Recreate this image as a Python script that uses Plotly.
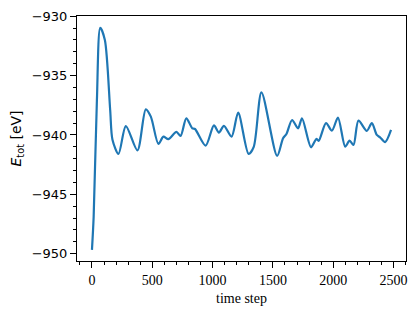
import plotly.graph_objects as go

# time step and total energy
time_step = [0, 14, 41, 69, 107, 151, 170, 220, 281, 377, 446, 488, 551, 592, 633, 700, 735,
             782, 832, 854, 942, 1011, 1052, 1094, 1157, 1212, 1298, 1341, 1405, 1535, 1584,
             1612, 1659, 1708, 1741, 1816, 1860, 1879, 1940, 1989, 2039, 2099, 2135, 2168,
             2209, 2278, 2320, 2361, 2388, 2430, 2479]
e_tot = [-949.68, -946.9, -937.06, -930.97, -932.0, -937.9, -940.4, -941.6, -939.25, -941.3,
         -937.84, -938.46, -940.76, -940.14, -940.36, -939.75, -940.08, -938.6, -939.44,
         -939.5, -940.9, -939.2, -939.8, -939.24, -940.14, -938.12, -941.6, -941.0, -936.41,
         -941.77, -940.28, -939.92, -938.74, -939.44, -938.6, -941.04, -940.34, -940.5,
         -939.0, -939.64, -938.54, -940.98, -940.48, -940.84, -938.8, -939.66, -939.0,
         -940.0, -940.2, -940.6, -939.58]

x_ticks = [0, 500, 1000, 1500, 2000, 2500]
y_ticks = [-950, -945, -940, -935, -930]

fig = go.Figure(go.Scatter(x=time_step, y=e_tot, mode="lines",
                           line=dict(color="#1f77b4", width=2.2, shape="spline", smoothing=0.8)))

fig.update_layout(
    width=418, height=318, margin=dict(l=77, r=12, t=16, b=57),
    plot_bgcolor="white", paper_bgcolor="white", showlegend=False,
)
fig.update_xaxes(
    range=[-124, 2603], tickvals=x_ticks, ticks="outside", ticklen=6, tickwidth=1,
    tickcolor="black", showline=True, linecolor="black", linewidth=1, mirror=True,
    showgrid=False, zeroline=False, automargin=False,
    tickfont=dict(family="Liberation Serif", size=14, color="black"),
    minor=dict(dtick=100, tick0=0, ticks="outside", ticklen=3, tickcolor="black", showgrid=False),
    title=dict(text="time step", font=dict(family="Liberation Serif", size=14, color="black"), standoff=6),
)
fig.update_yaxes(
    range=[-950.62, -929.98], tickvals=y_ticks, ticks="outside", ticklen=6, tickwidth=1,
    tickcolor="black", showline=True, linecolor="black", linewidth=1, mirror=True,
    showgrid=False, zeroline=False, automargin=False,
    tickfont=dict(family="DejaVu Sans", size=13, color="black"),
    minor=dict(dtick=1, tick0=0, ticks="outside", ticklen=3, tickcolor="black", showgrid=False),
    title=dict(text="<i>E</i><sub>tot</sub> [eV]", font=dict(family="DejaVu Sans", size=14, color="black"), standoff=6),
)

fig.write_html("out.html", config={"displayModeBar": False},
               post_script="document.body.style.margin='0';")
